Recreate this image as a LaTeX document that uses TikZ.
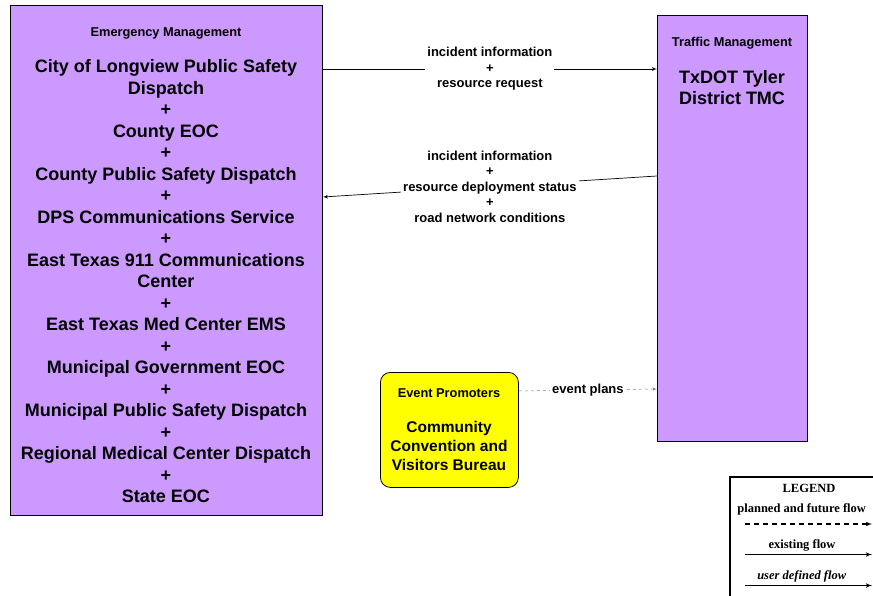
\documentclass[tikz,border=0pt]{standalone}
\usepackage{fontspec}
\setmainfont{Liberation Sans}
\newfontfamily\legendfont{Liberation Serif}
\usetikzlibrary{arrows}

\definecolor{mgmtpurple}{HTML}{CC99FF}
\definecolor{promoyellow}{HTML}{FFFF00}

\begin{document}
\begin{tikzpicture}[x=1pt, y=-1pt]

\tikzset{entity/.style = {shape=rectangle, draw, fill=mgmtpurple, line width=0.8pt, anchor=north west, inner sep=0pt}}
\tikzset{promoter/.style = {entity, fill=promoyellow, rounded corners=10pt}}
\tikzset{kind/.style = {font=\fontsize{12.8}{15.5}\selectfont\bfseries, inner sep=0pt, anchor=base}}
\tikzset{names/.style = {font=\fontsize{18}{21.5}\selectfont\bfseries, align=center, inner sep=0pt, anchor=north}}
\tikzset{flowlabel/.style = {font=\fontsize{13}{15.5}\selectfont\bfseries, align=center, fill=white, text=black, inner sep=2pt}}
\tikzset{edge/.style = {->, > = latex', line width=0.7pt}}
\tikzset{planned/.style = {edge, dashed, gray, line width=0.5pt}}
\tikzset{legendtext/.style = {font=\legendfont\fontsize{12.5}{14}\selectfont\bfseries, inner sep=0pt, anchor=base}}
\useasboundingbox (0,0) rectangle (873,596);
%boxes
\node[entity, minimum width=312pt, minimum height=510pt] (em) at (10,5) {};
\node[entity, minimum width=150pt, minimum height=426pt] (tmc) at (657,15) {};
\node[promoter, minimum width=138pt, minimum height=115pt] (promo) at (380,372) {};
%box texts
\node[kind] (emkind) at (166,36.7) {Emergency Management};
\node[names] (emnames) at (166,59.6) {City of Longview Public Safety\\Dispatch\\+\\County EOC\\+\\County Public Safety Dispatch\\+\\DPS Communications Service\\+\\East Texas 911 Communications\\Center\\+\\East Texas Med Center EMS\\+\\Municipal Government EOC\\+\\Municipal Public Safety Dispatch\\+\\Regional Medical Center Dispatch\\+\\State EOC};
\node[kind] (tmckind) at (732,47) {Traffic Management};
\node[names] (tmcname) at (732,70.2) {TxDOT Tyler\\District TMC};
\node[kind] (promokind) at (449,397) {Event Promoters};
\node[names, font=\fontsize{15.5}{19}\selectfont\bfseries] (promoname) at (449,421.3) {Community\\Convention and\\Visitors Bureau};
%flows
\draw[edge] ([yshift=-64pt]em.north east) -- node[flowlabel] (requestlabel) {incident information\\+\\resource request} ([yshift=-54pt]tmc.north west);
\draw[edge] ([yshift=-161pt]tmc.north west) -- node[flowlabel] (statuslabel) {incident information\\+\\resource deployment status\\+\\road network conditions} ([yshift=-192pt]em.north east);
\draw[planned] ([yshift=-19pt]promo.north east) -- node[flowlabel] (planslabel) {event plans} ([yshift=-374pt]tmc.north west);
%legend
\node[draw, line width=1.6pt, anchor=north west, minimum width=170pt, minimum height=140pt] (legend) at (729,476) {};
\node[legendtext] (legendtitle) at (809,492) {LEGEND};
\node[legendtext] (plannedtext) at (801.7,512) {planned and future flow};
\node[legendtext] (existingtext) at (802,548) {existing flow};
\node[legendtext, font=\legendfont\fontsize{12.5}{14}\selectfont\bfseries\itshape] (usertext) at (801.7,579) {user defined flow};
\coordinate (plannedstart) at (745,524);
\coordinate (plannedend) at (872,524);
\coordinate (existingstart) at (745,554.5);
\coordinate (existingend) at (872,554.5);
\coordinate (userstart) at (745,585.5);
\coordinate (userend) at (872,585.5);
\draw[edge, line width=1.1pt, dash pattern=on 5pt off 4pt] (plannedstart) -- (plannedend);
\draw[edge, line width=1.1pt] (existingstart) -- (existingend);
\draw[edge, line width=1.1pt] (userstart) -- (userend);

\end{tikzpicture}
\end{document}
